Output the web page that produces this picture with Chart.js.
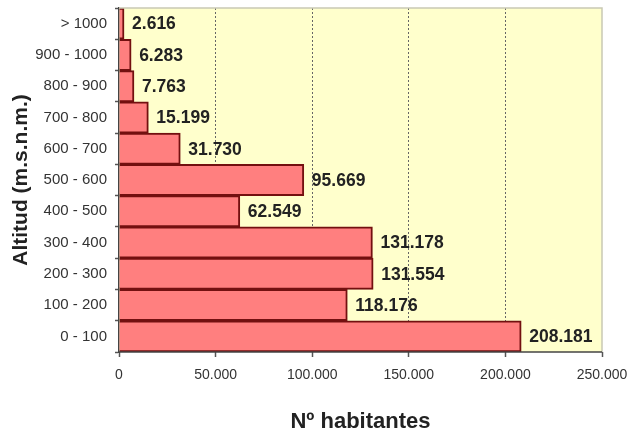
<!DOCTYPE html>
<html lang="es">
<head>
    <meta charset="UTF-8">
    <title>Población por altitud</title>
    <script src="https://cdn.jsdelivr.net/npm/chart.js"></script>
    <style>
        body {
            margin: 0;
            padding: 0;
            background: #fff;
        }
        #chart-box {
            width: 627px;
            height: 437px;
        }
    </style>
</head>
<body>
    <div id="chart-box"><canvas id="altitud" width="627" height="437"></canvas></div>

    <script>
        // Altitude bands, listed from top of the chart to bottom
        const bandas = ["> 1000", "900 - 1000", "800 - 900", "700 - 800", "600 - 700", "500 - 600",
                        "400 - 500", "300 - 400", "200 - 300", "100 - 200", "0 - 100"];
        const habitantes = [2616, 6283, 7763, 15199, 31730, 95669, 62549, 131178, 131554, 118176, 208181];
        const ejeX = [0, 50000, 100000, 150000, 200000, 250000];

        // thousands with a dot, also below 10.000
        function miles(v) {
            return String(v).replace(/\B(?=(\d{3})+(?!\d))/g, ".");
        }

        const fondoPlot = {
            id: "fondoPlot",
            beforeDraw(chart) {
                const { ctx, chartArea: a } = chart;
                ctx.save();
                ctx.fillStyle = "#ffffcc";
                ctx.fillRect(a.left, a.top, a.right - a.left, a.bottom - a.top);
                ctx.restore();
            },
            afterDraw(chart) {
                const { ctx, chartArea: a } = chart;
                ctx.save();
                // light frame top and right
                ctx.strokeStyle = "#c9c9b4";
                ctx.lineWidth = 1.5;
                ctx.beginPath();
                ctx.moveTo(a.left, a.top);
                ctx.lineTo(a.right, a.top);
                ctx.lineTo(a.right, a.bottom);
                ctx.stroke();
                // bottom axis line
                ctx.strokeStyle = "#444";
                ctx.lineWidth = 1.5;
                ctx.beginPath();
                ctx.moveTo(a.left, a.bottom);
                ctx.lineTo(a.right, a.bottom);
                ctx.stroke();
                ctx.restore();
            }
        };

        // value labels to the right of each bar
        const etiquetas = {
            id: "etiquetas",
            afterDatasetsDraw(chart) {
                const { ctx } = chart;
                const meta = chart.getDatasetMeta(0);
                ctx.save();
                ctx.font = "bold 17.5px 'Liberation Sans', Arial, sans-serif";
                ctx.fillStyle = "#222";
                ctx.textAlign = "left";
                ctx.textBaseline = "middle";
                meta.data.forEach((bar, i) => {
                    ctx.fillText(miles(habitantes[i]), bar.x + 8, bar.y + 1);
                });
                ctx.restore();
            }
        };

        new Chart(document.getElementById("altitud").getContext("2d"), {
            type: "bar",
            data: {
                labels: bandas,
                datasets: [{
                    data: habitantes,
                    backgroundColor: "#ff7f7f",
                    borderColor: "#731010",
                    borderWidth: 2,
                    borderSkipped: "start",
                    barPercentage: 1,
                    categoryPercentage: 1
                }]
            },
            options: {
                indexAxis: "y",
                responsive: false,
                animation: false,
                layout: { padding: { top: 8, right: 25, left: 0, bottom: 0 } },
                plugins: {
                    legend: { display: false },
                    tooltip: { enabled: false }
                },
                scales: {
                    x: {
                        min: 0,
                        max: 250000,
                        afterBuildTicks(scale) {
                            scale.ticks = ejeX.map(v => ({ value: v }));
                        },
                        afterFit(scale) {
                            scale.height = 85;
                            scale.paddingLeft = 0;
                            scale.paddingRight = 0;
                        },
                        ticks: {
                            padding: 10,
                            color: "#333",
                            font: { family: "'Liberation Sans', Arial, sans-serif", size: 14 },
                            callback: v => miles(v)
                        },
                        grid: {
                            color: c => (c.tick && (c.tick.value === 0 || c.tick.value === 250000)) ? "rgba(0,0,0,0)" : "#666",
                            lineWidth: 1,
                            tickLength: 5,
                            tickColor: "#555",
                            tickWidth: 1.5
                        },
                        border: { display: false, dash: [2, 2] },
                        title: {
                            display: true,
                            text: "Nº habitantes",
                            color: "#222",
                            padding: { top: 0, bottom: 2 },
                            font: { family: "'Liberation Sans', Arial, sans-serif", size: 22, weight: "bold" }
                        }
                    },
                    y: {
                        afterFit(scale) {
                            scale.width = 119;
                            scale.paddingTop = 0;
                            scale.paddingBottom = 0;
                        },
                        ticks: {
                            padding: 8,
                            color: "#333",
                            font: { family: "'Liberation Sans', Arial, sans-serif", size: 15 }
                        },
                        grid: {
                            drawOnChartArea: false,
                            tickLength: 4,
                            tickColor: "#555",
                            tickWidth: 1.5
                        },
                        border: { display: true, color: "#444", width: 1.5 },
                        title: {
                            display: true,
                            text: "Altitud (m.s.n.m.)",
                            color: "#222",
                            padding: { top: 9, bottom: 0 },
                            font: { family: "'Liberation Sans', Arial, sans-serif", size: 21, weight: "bold" }
                        }
                    }
                }
            },
            plugins: [fondoPlot, etiquetas]
        });
    </script>
</body>
</html>
